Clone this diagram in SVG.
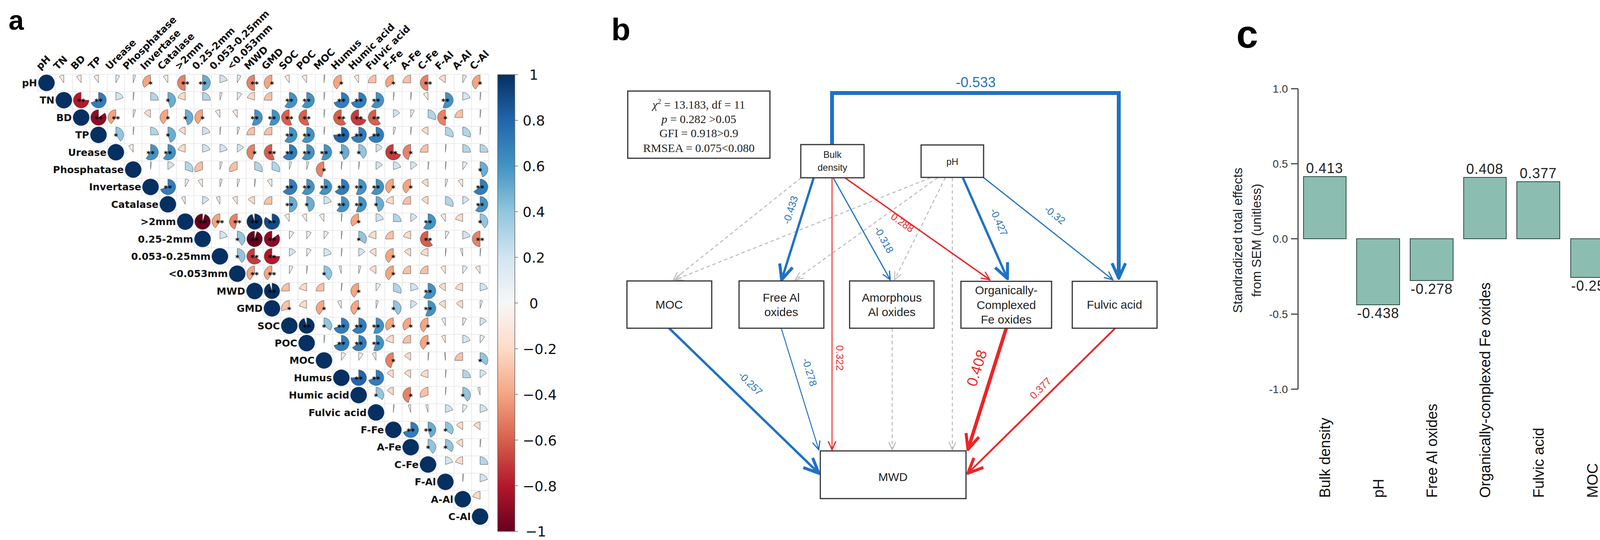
<svg xmlns="http://www.w3.org/2000/svg" xmlns:xlink="http://www.w3.org/1999/xlink" width="4294" height="1382" viewBox="0 0 4294 1382">
<style>
.lab{font-family:"DejaVu Sans",sans-serif;font-weight:bold;font-size:25px;fill:#111}
.st{font-family:"DejaVu Sans",sans-serif;font-weight:bold;font-size:20px;fill:#000;text-anchor:middle}
.q1{fill:#e4eef3}.q2{fill:#d1e5f0}.q3{fill:#b2d5e7}.q4{fill:#92c5de}.q5{fill:#6bacd0}.q6{fill:#4393c3}.q7{fill:#327dbb}.q8{fill:#2166ac}.q9{fill:#134b87}.q10{fill:#053061}
.r1{fill:#faeae0}.r2{fill:#fddbc7}.r3{fill:#f9c0a5}.r4{fill:#f4a582}.r5{fill:#e58368}.r6{fill:#d6604d}.r7{fill:#c43c3c}.r8{fill:#b2182b}.r9{fill:#8d0c25}.r10{fill:#67001f}
.dg{fill:#053061}
.cb{font-family:"DejaVu Sans",sans-serif;font-size:36px;fill:#111}
.pl{font-family:"Liberation Sans",Arial,sans-serif;font-weight:bold;fill:#000}
.box{fill:#fff;stroke:#333;stroke-width:3}
.nt{font-family:"Liberation Sans",Arial,sans-serif;font-size:30px;fill:#222;text-anchor:middle}
.nts{font-family:"Liberation Sans",Arial,sans-serif;font-size:24px;fill:#222;text-anchor:middle}
.sr{font-family:"Liberation Serif","Times New Roman",serif;font-size:30px;fill:#222;text-anchor:middle}
.el{font-family:"Liberation Sans",Arial,sans-serif;font-size:26px;text-anchor:middle}
.bl{fill:#2a73c0}.rd{fill:#ee2a2a}
.eb{fill:none;stroke:#1f72c3}.er{fill:none;stroke:#ee2424}.eg{fill:none;stroke:#b8b8b8;stroke-width:2.5;stroke-dasharray:9 7}
.bar{fill:#8bbdb0;stroke:#2f4a45;stroke-width:2}
.vl{font-family:"Liberation Sans",Arial,sans-serif;font-size:36px;fill:#222;text-anchor:middle;letter-spacing:1px}
.tk{font-family:"Liberation Sans",Arial,sans-serif;font-size:28px;fill:#333;text-anchor:end}
.cat{font-family:"Liberation Sans",Arial,sans-serif;font-size:38px;fill:#111}
.yt{font-family:"Liberation Sans",Arial,sans-serif;font-size:33px;fill:#222;text-anchor:middle}
</style>
<defs>
<g id="pie" stroke="#555" stroke-width="1"></g>
<path id="p02" stroke="#555" stroke-width="1" d="M0,0V-20A20,20 0 0 1 2.5,-19.84Z"/>
<path id="p05" stroke="#555" stroke-width="1" d="M0,0V-20A20,20 0 0 1 6.18,-19.02Z"/>
<path id="p08" stroke="#555" stroke-width="1" d="M0,0V-20A20,20 0 0 1 9.63,-17.53Z"/>
<path id="p10" stroke="#555" stroke-width="1" d="M0,0V-20A20,20 0 0 1 11.76,-16.18Z"/>
<path id="p15" stroke="#555" stroke-width="1" d="M0,0V-20A20,20 0 0 1 16.18,-11.76Z"/>
<path id="p20" stroke="#555" stroke-width="1" d="M0,0V-20A20,20 0 0 1 19.02,-6.18Z"/>
<path id="p25" stroke="#555" stroke-width="1" d="M0,0V-20A20,20 0 0 1 20,0Z"/>
<path id="p30" stroke="#555" stroke-width="1" d="M0,0V-20A20,20 0 0 1 19.02,6.18Z"/>
<path id="p35" stroke="#555" stroke-width="1" d="M0,0V-20A20,20 0 0 1 16.18,11.76Z"/>
<path id="p40" stroke="#555" stroke-width="1" d="M0,0V-20A20,20 0 0 1 11.76,16.18Z"/>
<path id="p45" stroke="#555" stroke-width="1" d="M0,0V-20A20,20 0 0 1 6.18,19.02Z"/>
<path id="p50" stroke="#555" stroke-width="1" d="M0,0V-20A20,20 0 0 1 0,20Z"/>
<path id="p55" stroke="#555" stroke-width="1" d="M0,0V-20A20,20 0 1 1 -6.18,19.02Z"/>
<path id="p60" stroke="#555" stroke-width="1" d="M0,0V-20A20,20 0 1 1 -11.76,16.18Z"/>
<path id="p65" stroke="#555" stroke-width="1" d="M0,0V-20A20,20 0 1 1 -16.18,11.76Z"/>
<path id="p70" stroke="#555" stroke-width="1" d="M0,0V-20A20,20 0 1 1 -19.02,6.18Z"/>
<path id="p75" stroke="#555" stroke-width="1" d="M0,0V-20A20,20 0 1 1 -20,0Z"/>
<path id="p85" stroke="#555" stroke-width="1" d="M0,0V-20A20,20 0 1 1 -16.18,-11.76Z"/>
<path id="p95" stroke="#555" stroke-width="1" d="M0,0V-20A20,20 0 1 1 -6.18,-19.02Z"/>
<path id="n02" stroke="#555" stroke-width="1" d="M0,0V-20A20,20 0 0 0 -2.5,-19.84Z"/>
<path id="n05" stroke="#555" stroke-width="1" d="M0,0V-20A20,20 0 0 0 -6.18,-19.02Z"/>
<path id="n08" stroke="#555" stroke-width="1" d="M0,0V-20A20,20 0 0 0 -9.63,-17.53Z"/>
<path id="n10" stroke="#555" stroke-width="1" d="M0,0V-20A20,20 0 0 0 -11.76,-16.18Z"/>
<path id="n15" stroke="#555" stroke-width="1" d="M0,0V-20A20,20 0 0 0 -16.18,-11.76Z"/>
<path id="n20" stroke="#555" stroke-width="1" d="M0,0V-20A20,20 0 0 0 -19.02,-6.18Z"/>
<path id="n25" stroke="#555" stroke-width="1" d="M0,0V-20A20,20 0 0 0 -20,0Z"/>
<path id="n30" stroke="#555" stroke-width="1" d="M0,0V-20A20,20 0 0 0 -19.02,6.18Z"/>
<path id="n35" stroke="#555" stroke-width="1" d="M0,0V-20A20,20 0 0 0 -16.18,11.76Z"/>
<path id="n40" stroke="#555" stroke-width="1" d="M0,0V-20A20,20 0 0 0 -11.76,16.18Z"/>
<path id="n45" stroke="#555" stroke-width="1" d="M0,0V-20A20,20 0 0 0 -6.18,19.02Z"/>
<path id="n50" stroke="#555" stroke-width="1" d="M0,0V-20A20,20 0 0 0 0,20Z"/>
<path id="n55" stroke="#555" stroke-width="1" d="M0,0V-20A20,20 0 1 0 6.18,19.02Z"/>
<path id="n60" stroke="#555" stroke-width="1" d="M0,0V-20A20,20 0 1 0 11.76,16.18Z"/>
<path id="n65" stroke="#555" stroke-width="1" d="M0,0V-20A20,20 0 1 0 16.18,11.76Z"/>
<path id="n70" stroke="#555" stroke-width="1" d="M0,0V-20A20,20 0 1 0 19.02,6.18Z"/>
<path id="n75" stroke="#555" stroke-width="1" d="M0,0V-20A20,20 0 1 0 20,0Z"/>
<path id="n85" stroke="#555" stroke-width="1" d="M0,0V-20A20,20 0 1 0 16.18,-11.76Z"/>
<path id="n95" stroke="#555" stroke-width="1" d="M0,0V-20A20,20 0 1 0 6.18,-19.02Z"/>
<linearGradient id="rdbu" x1="0" y1="0" x2="0" y2="1">
<stop offset="0" stop-color="#053061"/><stop offset="0.1" stop-color="#2166ac"/><stop offset="0.2" stop-color="#4393c3"/><stop offset="0.3" stop-color="#92c5de"/><stop offset="0.4" stop-color="#d1e5f0"/><stop offset="0.5" stop-color="#f7f7f7"/><stop offset="0.6" stop-color="#fddbc7"/><stop offset="0.7" stop-color="#f4a582"/><stop offset="0.8" stop-color="#d6604d"/><stop offset="0.9" stop-color="#b2182b"/><stop offset="1" stop-color="#67001f"/>
</linearGradient>
<marker id="ab" viewBox="0 0 12 12" refX="11" refY="6" markerWidth="26" markerHeight="26" markerUnits="userSpaceOnUse" orient="auto"><path d="M1,1.5L11,6L1,10.5" fill="none" stroke="#1f72c3" stroke-width="1.4"/></marker>
<marker id="abL" viewBox="0 0 12 12" refX="11" refY="6" markerWidth="46" markerHeight="46" markerUnits="userSpaceOnUse" orient="auto"><path d="M1,1.5L11,6L1,10.5" fill="none" stroke="#1f72c3" stroke-width="2"/></marker>
<marker id="ar" viewBox="0 0 12 12" refX="11" refY="6" markerWidth="26" markerHeight="26" markerUnits="userSpaceOnUse" orient="auto"><path d="M1,1.5L11,6L1,10.5" fill="none" stroke="#ee2424" stroke-width="1.4"/></marker>
<marker id="arL" viewBox="0 0 12 12" refX="11" refY="6" markerWidth="46" markerHeight="46" markerUnits="userSpaceOnUse" orient="auto"><path d="M1,1.5L11,6L1,10.5" fill="none" stroke="#ee2424" stroke-width="2"/></marker>
<marker id="ag" viewBox="0 0 12 12" refX="11" refY="6" markerWidth="24" markerHeight="24" markerUnits="userSpaceOnUse" orient="auto"><path d="M1,1.5L11,6L1,10.5" fill="none" stroke="#b8b8b8" stroke-width="1.2"/></marker>
</defs>
<rect width="4294" height="1382" fill="#fff"/>

<!-- Panel a -->
<text class="pl" x="22" y="76" font-size="70">a</text>
<path id="grid" fill="none" stroke="#e4e4e4" stroke-width="1.5" d="M97,190H1251.4M97,234.4H1251.4M141.4,278.8H1251.4M185.8,323.2H1251.4M230.2,367.6H1251.4M274.6,412H1251.4M319,456.4H1251.4M363.4,500.8H1251.4M407.8,545.2H1251.4M452.2,589.6H1251.4M496.6,634H1251.4M541,678.4H1251.4M585.4,722.8H1251.4M629.8,767.2H1251.4M674.2,811.6H1251.4M718.6,856H1251.4M763,900.4H1251.4M807.4,944.8H1251.4M851.8,989.2H1251.4M896.2,1033.6H1251.4M940.6,1078H1251.4M985,1122.4H1251.4M1029.4,1166.8H1251.4M1073.8,1211.2H1251.4M1118.2,1255.6H1251.4M1162.6,1300H1251.4M1207,1344.4H1251.4
M97,190V234.4M141.4,190V278.8M185.8,190V323.2M230.2,190V367.6M274.6,190V412M319,190V456.4M363.4,190V500.8M407.8,190V545.2M452.2,190V589.6M496.6,190V634M541,190V678.4M585.4,190V722.8M629.8,190V767.2M674.2,190V811.6M718.6,190V856M763,190V900.4M807.4,190V944.8M851.8,190V989.2M896.2,190V1033.6M940.6,190V1078M985,190V1122.4M1029.4,190V1166.8M1073.8,190V1211.2M1118.2,190V1255.6M1162.6,190V1300M1207,190V1344.4M1251.4,190V1344.4"/>

<g id="collabels" class="lab">
<text transform="translate(103,180) rotate(-45)">pH</text>
<text transform="translate(147.4,180) rotate(-45)">TN</text>
<text transform="translate(191.8,180) rotate(-45)">BD</text>
<text transform="translate(236.2,180) rotate(-45)">TP</text>
<text transform="translate(280.6,180) rotate(-45)">Urease</text>
<text transform="translate(325,180) rotate(-45)">Phosphatase</text>
<text transform="translate(369.4,180) rotate(-45)">Invertase</text>
<text transform="translate(413.8,180) rotate(-45)">Catalase</text>
<text transform="translate(458.2,180) rotate(-45)">&gt;2mm</text>
<text transform="translate(502.6,180) rotate(-45)">0.25-2mm</text>
<text transform="translate(547,180) rotate(-45)">0.053-0.25mm</text>
<text transform="translate(591.4,180) rotate(-45)">&lt;0.053mm</text>
<text transform="translate(635.8,180) rotate(-45)">MWD</text>
<text transform="translate(680.2,180) rotate(-45)">GMD</text>
<text transform="translate(724.6,180) rotate(-45)">SOC</text>
<text transform="translate(769,180) rotate(-45)">POC</text>
<text transform="translate(813.4,180) rotate(-45)">MOC</text>
<text transform="translate(857.8,180) rotate(-45)">Humus</text>
<text transform="translate(902.2,180) rotate(-45)">Humic acid</text>
<text transform="translate(946.6,180) rotate(-45)">Fulvic acid</text>
<text transform="translate(991,180) rotate(-45)">F-Fe</text>
<text transform="translate(1035.4,180) rotate(-45)">A-Fe</text>
<text transform="translate(1079.8,180) rotate(-45)">C-Fe</text>
<text transform="translate(1124.2,180) rotate(-45)">F-Al</text>
<text transform="translate(1168.6,180) rotate(-45)">A-Al</text>
<text transform="translate(1213,180) rotate(-45)">C-Al</text>
</g>

<g id="rowlabels" class="lab" text-anchor="end">
<text x="95" y="221">pH</text>
<text x="139.4" y="265.4">TN</text>
<text x="183.8" y="309.8">BD</text>
<text x="228.2" y="354.2">TP</text>
<text x="272.6" y="398.6">Urease</text>
<text x="317" y="443">Phosphatase</text>
<text x="361.4" y="487.4">Invertase</text>
<text x="405.8" y="531.8">Catalase</text>
<text x="450.2" y="576.2">&gt;2mm</text>
<text x="494.6" y="620.6">0.25-2mm</text>
<text x="539" y="665">0.053-0.25mm</text>
<text x="583.4" y="709.4">&lt;0.053mm</text>
<text x="627.8" y="753.8">MWD</text>
<text x="672.2" y="798.2">GMD</text>
<text x="716.6" y="842.6">SOC</text>
<text x="761" y="887">POC</text>
<text x="805.4" y="931.4">MOC</text>
<text x="849.8" y="975.8">Humus</text>
<text x="894.2" y="1020.2">Humic acid</text>
<text x="938.6" y="1064.6">Fulvic acid</text>
<text x="983" y="1109">F-Fe</text>
<text x="1027.4" y="1153.4">A-Fe</text>
<text x="1071.8" y="1197.8">C-Fe</text>
<text x="1116.2" y="1242.2">F-Al</text>
<text x="1160.6" y="1286.6">A-Al</text>
<text x="1205" y="1331">C-Al</text>
</g>

<g id="diag" class="dg">
<circle cx="119" cy="212" r="21"/><circle cx="163.4" cy="256.4" r="21"/><circle cx="207.8" cy="300.8" r="21"/><circle cx="252.2" cy="345.2" r="21"/><circle cx="296.6" cy="389.6" r="21"/><circle cx="341" cy="434" r="21"/><circle cx="385.4" cy="478.4" r="21"/><circle cx="429.8" cy="522.8" r="21"/><circle cx="474.2" cy="567.2" r="21"/><circle cx="518.6" cy="611.6" r="21"/><circle cx="563" cy="656" r="21"/><circle cx="607.4" cy="700.4" r="21"/><circle cx="651.8" cy="744.8" r="21"/><circle cx="696.2" cy="789.2" r="21"/><circle cx="740.6" cy="833.6" r="21"/><circle cx="785" cy="878" r="21"/><circle cx="829.4" cy="922.4" r="21"/><circle cx="873.8" cy="966.8" r="21"/><circle cx="918.2" cy="1011.2" r="21"/><circle cx="962.6" cy="1055.6" r="21"/><circle cx="1007" cy="1100" r="21"/><circle cx="1051.4" cy="1144.4" r="21"/><circle cx="1095.8" cy="1188.8" r="21"/><circle cx="1140.2" cy="1233.2" r="21"/><circle cx="1184.6" cy="1277.6" r="21"/><circle cx="1229" cy="1322" r="21"/>
</g>

<g id="pies">
<g transform="translate(0,212)">
<use href="#n10" x="163.4" class="r1"/><use href="#n10" x="207.8" class="r1"/><use href="#n10" x="252.2" class="r1"/><use href="#p08" x="296.6" class="q1"/><use href="#p05" x="341" class="q1"/><use href="#n35" x="385.4" class="r4"/><use href="#n10" x="429.8" class="r1"/><use href="#n50" x="474.2" class="r5"/><use href="#p50" x="518.6" class="q5"/><use href="#p20" x="563" class="q2"/><use href="#p08" x="607.4" class="q1"/><use href="#n50" x="651.8" class="r5"/><use href="#n40" x="696.2" class="r4"/><use href="#n10" x="740.6" class="r1"/><use href="#n10" x="785" class="r1"/><use href="#p02" x="829.4" class="q1"/><use href="#n40" x="873.8" class="r4"/><use href="#n10" x="918.2" class="r1"/><use href="#n25" x="962.6" class="r3"/><use href="#n35" x="1007" class="r4"/><use href="#n25" x="1051.4" class="r3"/><use href="#n50" x="1095.8" class="r5"/><use href="#n15" x="1140.2" class="r2"/><use href="#p08" x="1184.6" class="q1"/><use href="#n40" x="1229" class="r4"/>
<text class="st" x="385.4" y="10">*</text><text class="st" x="474.2" y="10">**</text><text class="st" x="518.6" y="10">**</text><text class="st" x="651.8" y="10">**</text><text class="st" x="696.2" y="10">*</text><text class="st" x="873.8" y="10">*</text><text class="st" x="1007" y="10">*</text><text class="st" x="1095.8" y="10">**</text><text class="st" x="1229" y="10">*</text>
</g>
<g transform="translate(0,256.4)">
<use href="#n75" x="207.8" class="r8"/><use href="#p70" x="252.2" class="q7"/><use href="#p20" x="296.6" class="q2"/><use href="#p02" x="341" class="q1"/><use href="#p25" x="385.4" class="q3"/><use href="#p45" x="429.8" class="q5"/><use href="#n20" x="474.2" class="r2"/><use href="#p25" x="518.6" class="q3"/><use href="#p05" x="563" class="q1"/><use href="#p10" x="607.4" class="q1"/><use href="#n20" x="651.8" class="r2"/><use href="#n25" x="696.2" class="r3"/><use href="#p60" x="740.6" class="q6"/><use href="#p60" x="785" class="q6"/><use href="#p02" x="829.4" class="q1"/><use href="#p70" x="873.8" class="q7"/><use href="#p70" x="918.2" class="q7"/><use href="#p60" x="962.6" class="q6"/><use href="#p02" x="1007" class="q1"/><use href="#p02" x="1051.4" class="q1"/><use href="#n10" x="1095.8" class="r1"/><use href="#p55" x="1140.2" class="q6"/><use href="#p20" x="1184.6" class="q2"/><use href="#p02" x="1229" class="q1"/>
<text class="st" x="207.8" y="10">**</text><text class="st" x="252.2" y="10">**</text><text class="st" x="429.8" y="10">*</text><text class="st" x="740.6" y="10">**</text><text class="st" x="785" y="10">**</text><text class="st" x="873.8" y="10">**</text><text class="st" x="918.2" y="10">**</text><text class="st" x="962.6" y="10">**</text><text class="st" x="1140.2" y="10">**</text>
</g>
<g transform="translate(0,300.8)">
<use href="#n85" x="252.2" class="r9"/><use href="#n40" x="296.6" class="r4"/><use href="#p05" x="341" class="q1"/><use href="#n15" x="385.4" class="r2"/><use href="#n40" x="429.8" class="r4"/><use href="#p45" x="474.2" class="q5"/><use href="#n40" x="518.6" class="r4"/><use href="#n10" x="563" class="r1"/><use href="#n10" x="607.4" class="r1"/><use href="#p55" x="651.8" class="q6"/><use href="#p55" x="696.2" class="q6"/><use href="#n55" x="740.6" class="r6"/><use href="#n55" x="785" class="r6"/><use href="#p02" x="829.4" class="q1"/><use href="#n60" x="873.8" class="r6"/><use href="#n70" x="918.2" class="r7"/><use href="#n60" x="962.6" class="r6"/><use href="#p15" x="1007" class="q2"/><use href="#p08" x="1051.4" class="q1"/><use href="#p30" x="1095.8" class="q3"/><use href="#n50" x="1140.2" class="r5"/><use href="#n25" x="1184.6" class="r3"/><use href="#p02" x="1229" class="q1"/>
<text class="st" x="252.2" y="10">**</text><text class="st" x="296.6" y="10">**</text><text class="st" x="429.8" y="10">*</text><text class="st" x="474.2" y="10">*</text><text class="st" x="518.6" y="10">*</text><text class="st" x="651.8" y="10">**</text><text class="st" x="696.2" y="10">**</text><text class="st" x="740.6" y="10">**</text><text class="st" x="785" y="10">**</text><text class="st" x="873.8" y="10">**</text><text class="st" x="918.2" y="10">**</text><text class="st" x="962.6" y="10">**</text><text class="st" x="1140.2" y="10">*</text>
</g>
<g transform="translate(0,345.2)">
<use href="#p40" x="296.6" class="q4"/><use href="#p02" x="341" class="q1"/><use href="#p25" x="385.4" class="q3"/><use href="#p45" x="429.8" class="q5"/><use href="#n15" x="474.2" class="r2"/><use href="#p20" x="518.6" class="q2"/><use href="#p02" x="563" class="q1"/><use href="#p05" x="607.4" class="q1"/><use href="#n25" x="651.8" class="r3"/><use href="#n25" x="696.2" class="r3"/><use href="#p60" x="740.6" class="q6"/><use href="#p60" x="785" class="q6"/><use href="#p02" x="829.4" class="q1"/><use href="#p75" x="873.8" class="q8"/><use href="#p70" x="918.2" class="q7"/><use href="#p70" x="962.6" class="q7"/><use href="#p05" x="1007" class="q1"/><use href="#p02" x="1051.4" class="q1"/><use href="#n15" x="1095.8" class="r2"/><use href="#p30" x="1140.2" class="q3"/><use href="#p30" x="1184.6" class="q3"/><use href="#p02" x="1229" class="q1"/>
<text class="st" x="296.6" y="10">*</text><text class="st" x="429.8" y="10">*</text><text class="st" x="740.6" y="10">**</text><text class="st" x="785" y="10">**</text><text class="st" x="873.8" y="10">**</text><text class="st" x="918.2" y="10">**</text><text class="st" x="962.6" y="10">**</text>
</g>
<g transform="translate(0,389.6)">
<use href="#n10" x="341" class="r1"/><use href="#p60" x="385.4" class="q6"/><use href="#p60" x="429.8" class="q6"/><use href="#n20" x="474.2" class="r2"/><use href="#p20" x="518.6" class="q2"/><use href="#p20" x="563" class="q2"/><use href="#p15" x="607.4" class="q2"/><use href="#n45" x="651.8" class="r5"/><use href="#n55" x="696.2" class="r6"/><use href="#p65" x="740.6" class="q7"/><use href="#p60" x="785" class="q6"/><use href="#p55" x="829.4" class="q6"/><use href="#p45" x="873.8" class="q5"/><use href="#p40" x="918.2" class="q4"/><use href="#p15" x="962.6" class="q2"/><use href="#n70" x="1007" class="r7"/><use href="#n45" x="1051.4" class="r5"/><use href="#n25" x="1095.8" class="r3"/><use href="#p02" x="1140.2" class="q1"/><use href="#p25" x="1184.6" class="q3"/><use href="#p25" x="1229" class="q3"/>
<text class="st" x="385.4" y="10">**</text><text class="st" x="429.8" y="10">**</text><text class="st" x="651.8" y="10">*</text><text class="st" x="696.2" y="10">**</text><text class="st" x="740.6" y="10">**</text><text class="st" x="785" y="10">**</text><text class="st" x="829.4" y="10">**</text><text class="st" x="873.8" y="10">*</text><text class="st" x="918.2" y="10">*</text><text class="st" x="1007" y="10">**</text><text class="st" x="1051.4" y="10">*</text>
</g>
<g transform="translate(0,434)">
<use href="#p02" x="385.4" class="q1"/><use href="#p15" x="429.8" class="q2"/><use href="#p30" x="474.2" class="q3"/><use href="#n30" x="518.6" class="r3"/><use href="#p05" x="563" class="q1"/><use href="#n30" x="607.4" class="r3"/><use href="#p30" x="651.8" class="q3"/><use href="#p30" x="696.2" class="q3"/><use href="#p05" x="740.6" class="q1"/><use href="#p05" x="785" class="q1"/><use href="#n45" x="829.4" class="r5"/><use href="#p02" x="873.8" class="q1"/><use href="#p02" x="918.2" class="q1"/><use href="#p15" x="962.6" class="q2"/><use href="#p20" x="1007" class="q2"/><use href="#p15" x="1051.4" class="q2"/><use href="#p02" x="1095.8" class="q1"/><use href="#p02" x="1140.2" class="q1"/><use href="#p10" x="1184.6" class="q1"/><use href="#p45" x="1229" class="q5"/>
<text class="st" x="829.4" y="10">*</text><text class="st" x="1229" y="10">*</text>
</g>
<g transform="translate(0,478.4)">
<use href="#p70" x="429.8" class="q7"/><use href="#p08" x="474.2" class="q1"/><use href="#n10" x="518.6" class="r1"/><use href="#p05" x="563" class="q1"/><use href="#p05" x="607.4" class="q1"/><use href="#p02" x="651.8" class="q1"/><use href="#n10" x="696.2" class="r1"/><use href="#p65" x="740.6" class="q7"/><use href="#p60" x="785" class="q6"/><use href="#p60" x="829.4" class="q6"/><use href="#p65" x="873.8" class="q7"/><use href="#p55" x="918.2" class="q6"/><use href="#p60" x="962.6" class="q6"/><use href="#n40" x="1007" class="r4"/><use href="#n40" x="1051.4" class="r4"/><use href="#n15" x="1095.8" class="r2"/><use href="#p05" x="1140.2" class="q1"/><use href="#n10" x="1184.6" class="r1"/><use href="#p65" x="1229" class="q7"/>
<text class="st" x="429.8" y="10">**</text><text class="st" x="740.6" y="10">**</text><text class="st" x="785" y="10">**</text><text class="st" x="829.4" y="10">**</text><text class="st" x="873.8" y="10">**</text><text class="st" x="918.2" y="10">**</text><text class="st" x="962.6" y="10">**</text><text class="st" x="1007" y="10">*</text><text class="st" x="1051.4" y="10">*</text><text class="st" x="1229" y="10">**</text>
</g>
<g transform="translate(0,522.8)">
<use href="#n08" x="474.2" class="r1"/><use href="#p15" x="518.6" class="q2"/><use href="#n08" x="563" class="r1"/><use href="#n10" x="607.4" class="r1"/><use href="#n15" x="651.8" class="r2"/><use href="#n25" x="696.2" class="r3"/><use href="#p50" x="740.6" class="q5"/><use href="#p45" x="785" class="q5"/><use href="#p20" x="829.4" class="q2"/><use href="#p60" x="873.8" class="q6"/><use href="#p55" x="918.2" class="q6"/><use href="#p45" x="962.6" class="q5"/><use href="#n20" x="1007" class="r2"/><use href="#n25" x="1051.4" class="r3"/><use href="#n15" x="1095.8" class="r2"/><use href="#p30" x="1140.2" class="q3"/><use href="#p15" x="1184.6" class="q2"/><use href="#p60" x="1229" class="q6"/>
<text class="st" x="740.6" y="10">**</text><text class="st" x="785" y="10">*</text><text class="st" x="873.8" y="10">**</text><text class="st" x="918.2" y="10">**</text><text class="st" x="962.6" y="10">*</text><text class="st" x="1229" y="10">**</text>
</g>
<g transform="translate(0,567.2)">
<use href="#n95" x="518.6" class="r10"/><use href="#n40" x="563" class="r4"/><use href="#n45" x="607.4" class="r5"/><use href="#p95" x="651.8" class="q10"/><use href="#p85" x="696.2" class="q9"/><use href="#n10" x="740.6" class="r1"/><use href="#n10" x="785" class="r1"/><use href="#n10" x="829.4" class="r1"/><use href="#p02" x="873.8" class="q1"/><use href="#n35" x="918.2" class="r4"/><use href="#p20" x="962.6" class="q2"/><use href="#p25" x="1007" class="q3"/><use href="#p15" x="1051.4" class="q2"/><use href="#p60" x="1095.8" class="q6"/><use href="#n10" x="1140.2" class="r1"/><use href="#n20" x="1184.6" class="r2"/><use href="#p40" x="1229" class="q4"/>
<text class="st" x="518.6" y="10">**</text><text class="st" x="563" y="10">**</text><text class="st" x="607.4" y="10">**</text><text class="st" x="651.8" y="10">**</text><text class="st" x="696.2" y="10">**</text><text class="st" x="918.2" y="10">*</text><text class="st" x="1095.8" y="10">**</text><text class="st" x="1229" y="10">*</text>
</g>
<g transform="translate(0,611.6)">
<use href="#p20" x="563" class="q2"/><use href="#p40" x="607.4" class="q4"/><use href="#n95" x="651.8" class="r10"/><use href="#n85" x="696.2" class="r9"/><use href="#p10" x="740.6" class="q1"/><use href="#p10" x="785" class="q1"/><use href="#p10" x="829.4" class="q1"/><use href="#p02" x="873.8" class="q1"/><use href="#p35" x="918.2" class="q4"/><use href="#n20" x="962.6" class="r2"/><use href="#n25" x="1007" class="r3"/><use href="#n20" x="1051.4" class="r2"/><use href="#n60" x="1095.8" class="r6"/><use href="#p08" x="1140.2" class="q1"/><use href="#p20" x="1184.6" class="q2"/><use href="#n50" x="1229" class="r5"/>
<text class="st" x="607.4" y="10">*</text><text class="st" x="651.8" y="10">**</text><text class="st" x="696.2" y="10">**</text><text class="st" x="918.2" y="10">*</text><text class="st" x="1095.8" y="10">**</text><text class="st" x="1229" y="10">**</text>
</g>
<g transform="translate(0,656)">
<use href="#p40" x="607.4" class="q4"/><use href="#n65" x="651.8" class="r7"/><use href="#n75" x="696.2" class="r8"/><use href="#p15" x="740.6" class="q2"/><use href="#p10" x="785" class="q1"/><use href="#p20" x="829.4" class="q2"/><use href="#p02" x="873.8" class="q1"/><use href="#p15" x="918.2" class="q2"/><use href="#n15" x="962.6" class="r2"/><use href="#n40" x="1007" class="r4"/><use href="#n15" x="1051.4" class="r2"/><use href="#n20" x="1095.8" class="r2"/><use href="#p02" x="1140.2" class="q1"/><use href="#n05" x="1184.6" class="r1"/><use href="#p02" x="1229" class="q1"/>
<text class="st" x="607.4" y="10">*</text><text class="st" x="651.8" y="10">**</text><text class="st" x="696.2" y="10">**</text><text class="st" x="1007" y="10">*</text>
</g>
<g transform="translate(0,700.4)">
<use href="#n40" x="651.8" class="r4"/><use href="#n40" x="696.2" class="r4"/><use href="#p08" x="740.6" class="q1"/><use href="#p02" x="785" class="q1"/><use href="#p40" x="829.4" class="q4"/><use href="#n05" x="873.8" class="r1"/><use href="#p05" x="918.2" class="q1"/><use href="#n15" x="962.6" class="r2"/><use href="#n40" x="1007" class="r4"/><use href="#n25" x="1051.4" class="r3"/><use href="#n25" x="1095.8" class="r3"/><use href="#n10" x="1140.2" class="r1"/><use href="#p10" x="1184.6" class="q1"/><use href="#n10" x="1229" class="r1"/>
<text class="st" x="651.8" y="10">**</text><text class="st" x="696.2" y="10">**</text><text class="st" x="829.4" y="10">*</text><text class="st" x="1007" y="10">*</text>
</g>
<g transform="translate(0,744.8)">
<use href="#p95" x="696.2" class="q10"/><use href="#n25" x="740.6" class="r3"/><use href="#n20" x="785" class="r2"/><use href="#n25" x="829.4" class="r3"/><use href="#p02" x="873.8" class="q1"/><use href="#n40" x="918.2" class="r4"/><use href="#p10" x="962.6" class="q1"/><use href="#p30" x="1007" class="q3"/><use href="#p20" x="1051.4" class="q2"/><use href="#p60" x="1095.8" class="q6"/><use href="#n15" x="1140.2" class="r2"/><use href="#n20" x="1184.6" class="r2"/><use href="#p20" x="1229" class="q2"/>
<text class="st" x="696.2" y="10">**</text><text class="st" x="918.2" y="10">*</text><text class="st" x="1095.8" y="10">**</text>
</g>
<g transform="translate(0,789.2)">
<use href="#n30" x="740.6" class="r3"/><use href="#n20" x="785" class="r2"/><use href="#n40" x="829.4" class="r4"/><use href="#n08" x="873.8" class="r1"/><use href="#n40" x="918.2" class="r4"/><use href="#p05" x="962.6" class="q1"/><use href="#p40" x="1007" class="q4"/><use href="#p15" x="1051.4" class="q2"/><use href="#p55" x="1095.8" class="q6"/><use href="#n15" x="1140.2" class="r2"/><use href="#n15" x="1184.6" class="r2"/><use href="#p05" x="1229" class="q1"/>
<text class="st" x="740.6" y="10">*</text><text class="st" x="829.4" y="10">*</text><text class="st" x="918.2" y="10">*</text><text class="st" x="1007" y="10">*</text><text class="st" x="1095.8" y="10">**</text>
</g>
<g transform="translate(0,833.6)">
<use href="#p95" x="785" class="q10"/><use href="#p35" x="829.4" class="q4"/><use href="#p70" x="873.8" class="q7"/><use href="#p65" x="918.2" class="q7"/><use href="#p55" x="962.6" class="q6"/><use href="#n35" x="1007" class="r4"/><use href="#n35" x="1051.4" class="r4"/><use href="#n40" x="1095.8" class="r4"/><use href="#n08" x="1140.2" class="r1"/><use href="#p08" x="1184.6" class="q1"/><use href="#p15" x="1229" class="q2"/>
<text class="st" x="785" y="10">**</text><text class="st" x="829.4" y="10">*</text><text class="st" x="873.8" y="10">**</text><text class="st" x="918.2" y="10">**</text><text class="st" x="962.6" y="10">**</text><text class="st" x="1007" y="10">*</text><text class="st" x="1051.4" y="10">*</text><text class="st" x="1095.8" y="10">*</text>
</g>
<g transform="translate(0,878)">
<use href="#p02" x="829.4" class="q1"/><use href="#p70" x="873.8" class="q7"/><use href="#p65" x="918.2" class="q7"/><use href="#p55" x="962.6" class="q6"/><use href="#n20" x="1007" class="r2"/><use href="#n25" x="1051.4" class="r3"/><use href="#n40" x="1095.8" class="r4"/><use href="#n08" x="1140.2" class="r1"/><use href="#p20" x="1184.6" class="q2"/><use href="#p10" x="1229" class="q1"/>
<text class="st" x="873.8" y="10">**</text><text class="st" x="918.2" y="10">**</text><text class="st" x="962.6" y="10">**</text><text class="st" x="1095.8" y="10">*</text>
</g>
<g transform="translate(0,922.4)">
<use href="#p10" x="873.8" class="q1"/><use href="#p10" x="918.2" class="q1"/><use href="#n08" x="962.6" class="r1"/><use href="#n45" x="1007" class="r5"/><use href="#n15" x="1051.4" class="r2"/><use href="#p02" x="1095.8" class="q1"/><use href="#n02" x="1140.2" class="r1"/><use href="#n25" x="1184.6" class="r3"/><use href="#p35" x="1229" class="q4"/>
<text class="st" x="1007" y="10">*</text><text class="st" x="1229" y="10">*</text>
</g>
<g transform="translate(0,966.8)">
<use href="#p75" x="918.2" class="q8"/><use href="#p70" x="962.6" class="q7"/><use href="#n15" x="1007" class="r2"/><use href="#n15" x="1051.4" class="r2"/><use href="#n20" x="1095.8" class="r2"/><use href="#p02" x="1140.2" class="q1"/><use href="#p25" x="1184.6" class="q3"/><use href="#p15" x="1229" class="q2"/>
<text class="st" x="918.2" y="10">**</text><text class="st" x="962.6" y="10">**</text>
</g>
<g transform="translate(0,1011.2)">
<use href="#p35" x="962.6" class="q4"/><use href="#n15" x="1007" class="r2"/><use href="#n45" x="1051.4" class="r5"/><use href="#n30" x="1095.8" class="r3"/><use href="#p02" x="1140.2" class="q1"/><use href="#p40" x="1184.6" class="q4"/><use href="#n05" x="1229" class="r1"/>
<text class="st" x="962.6" y="10">*</text><text class="st" x="1051.4" y="10">*</text><text class="st" x="1184.6" y="10">*</text>
</g>
<g transform="translate(0,1055.6)">
<use href="#p02" x="1007" class="q1"/><use href="#n05" x="1051.4" class="r1"/><use href="#n05" x="1095.8" class="r1"/><use href="#p20" x="1140.2" class="q2"/><use href="#p10" x="1184.6" class="q1"/><use href="#p20" x="1229" class="q2"/>
</g>
<g transform="translate(0,1100)">
<use href="#p70" x="1051.4" class="q7"/><use href="#p45" x="1095.8" class="q5"/><use href="#p35" x="1140.2" class="q4"/><use href="#n15" x="1184.6" class="r2"/><use href="#n15" x="1229" class="r2"/>
<text class="st" x="1051.4" y="10">**</text><text class="st" x="1095.8" y="10">**</text><text class="st" x="1140.2" y="10">*</text>
</g>
<g transform="translate(0,1144.4)">
<use href="#p40" x="1095.8" class="q4"/><use href="#p35" x="1140.2" class="q4"/><use href="#n15" x="1184.6" class="r2"/><use href="#p02" x="1229" class="q1"/>
<text class="st" x="1095.8" y="10">*</text><text class="st" x="1140.2" y="10">*</text>
</g>
<g transform="translate(0,1188.8)">
<use href="#p20" x="1140.2" class="q2"/><use href="#n20" x="1184.6" class="r2"/><use href="#p25" x="1229" class="q3"/>
</g>
<g transform="translate(0,1233.2)">
<use href="#p02" x="1184.6" class="q1"/><use href="#p20" x="1229" class="q2"/>
</g>
<g transform="translate(0,1277.6)">
<use href="#n20" x="1229" class="r2"/>
</g>
</g>

<g id="colorbar">
<rect x="1274" y="191" width="44" height="1169" fill="url(#rdbu)" stroke="#666" stroke-width="1.5"/>
<path d="M1318,191h8M1318,307.9h8M1318,424.8h8M1318,541.7h8M1318,658.6h8M1318,775.5h8M1318,892.4h8M1318,1009.3h8M1318,1126.2h8M1318,1243.1h8M1318,1360h8" stroke="#666" stroke-width="1.5"/>
<text class="cb" x="1355" y="204">1</text>
<text class="cb" x="1338" y="321">0.8</text>
<text class="cb" x="1338" y="438">0.6</text>
<text class="cb" x="1338" y="555">0.4</text>
<text class="cb" x="1338" y="672">0.2</text>
<text class="cb" x="1355" y="789">0</text>
<text class="cb" x="1338" y="906">−0.2</text>
<text class="cb" x="1338" y="1023">−0.4</text>
<text class="cb" x="1338" y="1140">−0.6</text>
<text class="cb" x="1338" y="1257">−0.8</text>
<text class="cb" x="1345" y="1373">−1</text>
</g>

<!-- Panel b -->
<text class="pl" x="1565" y="103" font-size="80">b</text>
<g id="fitbox">
<rect x="1607" y="233" width="364" height="172" fill="#fff" stroke="#333" stroke-width="3"/>
<text class="sr" x="1789" y="278"><tspan font-style="italic">χ</tspan><tspan font-size="18" dy="-12">2</tspan><tspan dy="12"> = 13.183, df = 11</tspan></text>
<text class="sr" x="1789" y="315"><tspan font-style="italic">p</tspan> = 0.282 &gt;0.05</text>
<text class="sr" x="1789" y="351">GFI = 0.918&gt;0.9</text>
<text class="sr" x="1789" y="389">RMSEA = 0.075&lt;0.080</text>
</g>

<g id="connectors">
<path class="eb" stroke-width="10" d="M2130,370V238H2864V712" marker-end="url(#abL)"/>
<path class="eg" d="M2051,455L1724,716" marker-end="url(#ag)"/>
<path class="eg" d="M2382,455L1728,716" marker-end="url(#ag)"/>
<path class="eg" d="M2400,455L2036,716" marker-end="url(#ag)"/>
<path class="eg" d="M2420,455L2290,716" marker-end="url(#ag)"/>
<path class="eg" d="M2438,455V1151" marker-end="url(#ag)"/>
<path class="eg" d="M2284,840V1151" marker-end="url(#ag)"/>
<path class="eb" stroke-width="6" d="M2083,455L2001,716" marker-end="url(#abL)"/>
<path class="er" stroke-width="2.5" d="M2130,455V1151" marker-end="url(#ar)"/>
<path class="eb" stroke-width="3" d="M2133,455L2279,716" marker-end="url(#ab)"/>
<path class="er" stroke-width="3.5" d="M2163,455L2534,716" marker-end="url(#ar)"/>
<path class="eb" stroke-width="6" d="M2465,455L2579,713" marker-end="url(#abL)"/>
<path class="eb" stroke-width="3" d="M2516,453L2849,716" marker-end="url(#ab)"/>
<path class="eb" stroke-width="6" d="M1713,840L2096,1211" marker-end="url(#abL)"/>
<path class="eb" stroke-width="2.5" d="M2000,840L2096,1151" marker-end="url(#ab)"/>
<path class="er" stroke-width="9" d="M2576,840L2478,1150" marker-end="url(#arL)"/>
<path class="er" stroke-width="4.5" d="M2855,840L2478,1211" marker-end="url(#arL)"/>
<g class="el">
<text class="bl" x="2498" y="223" font-size="36">-0.533</text>
<text class="bl" transform="translate(2032,540) rotate(-72.5)">-0.433</text>
<text class="rd" transform="translate(2141,916) rotate(90)">0.322</text>
<text class="bl" transform="translate(2255,618) rotate(61)">-0.318</text>
<text class="rd" transform="translate(2305,577) rotate(35.4)">0.288</text>
<text class="bl" transform="translate(2549,572) rotate(66.3)">-0.427</text>
<text class="bl" transform="translate(2695,557) rotate(38.2)">-0.32</text>
<text class="bl" transform="translate(1915,988) rotate(44.2)">-0.257</text>
<text class="bl" transform="translate(2064,955) rotate(72.9)">-0.278</text>
<text class="rd" transform="translate(2513,946) rotate(-72.6)" font-size="38">0.408</text>
<text class="rd" transform="translate(2670,1000) rotate(-44.7)">0.377</text>
</g>
</g>

<g id="n-bd"><rect class="box" x="2050" y="370" width="162" height="85"/><text class="nts" x="2131" y="404">Bulk</text><text class="nts" x="2131" y="437">density</text></g>
<g id="n-ph"><rect class="box" x="2358" y="371" width="160" height="83"/><text class="nts" x="2438" y="422">pH</text></g>
<g id="n-moc"><rect class="box" x="1605" y="719" width="217" height="121"/><text class="nt" x="1713" y="790">MOC</text></g>
<g id="n-fal"><rect class="box" x="1892" y="719" width="217" height="121"/><text class="nt" x="2000" y="772">Free Al</text><text class="nt" x="2000" y="809">oxides</text></g>
<g id="n-aal"><rect class="box" x="2175" y="719" width="216" height="121"/><text class="nt" x="2283" y="772">Amorphous</text><text class="nt" x="2283" y="809">Al oxides</text></g>
<g id="n-ofe"><rect class="box" x="2460" y="720" width="232" height="120"/><text class="nt" x="2576" y="753">Organically-</text><text class="nt" x="2576" y="791">Complexed</text><text class="nt" x="2576" y="828">Fe oxides</text></g>
<g id="n-fa"><rect class="box" x="2745" y="720" width="217" height="120"/><text class="nt" x="2853" y="790">Fulvic acid</text></g>
<g id="n-mwd"><rect class="box" x="2100" y="1154" width="373" height="122"/><text class="nt" x="2286" y="1231" font-size="46">MWD</text></g>

<!-- Panel c -->
<text class="pl" x="3165" y="122" font-size="100">c</text>
<g id="axis">
<path d="M3323,227V996M3305,227H3323M3305,419H3323M3305,611H3323M3305,804H3323M3305,996H3323" fill="none" stroke="#444" stroke-width="3"/>
<text class="tk" x="3297" y="237">1.0</text>
<text class="tk" x="3297" y="429">0.5</text>
<text class="tk" x="3297" y="621">0.0</text>
<text class="tk" x="3297" y="814">-0.5</text>
<text class="tk" x="3297" y="1006">-1.0</text>
<text class="yt" transform="translate(3180,615) rotate(-90)">Standradized total effects</text>
<text class="yt" transform="translate(3228,615) rotate(-90)">from SEM (unitless)</text>
</g>
<g id="bars">
<rect class="bar" x="3337" y="452" width="109" height="159"/>
<rect class="bar" x="3473" y="611" width="110" height="169"/>
<rect class="bar" x="3610" y="611" width="110" height="107"/>
<rect class="bar" x="3747" y="454" width="109" height="157"/>
<rect class="bar" x="3883" y="465" width="110" height="146"/>
<rect class="bar" x="4021" y="611" width="110" height="99"/>
<rect class="bar" x="4158" y="611" width="110" height="52"/>
<text class="vl" x="3391" y="443">0.413</text>
<text class="vl" x="3528" y="814">-0.438</text>
<text class="vl" x="3665" y="752">-0.278</text>
<text class="vl" x="3801" y="445">0.408</text>
<text class="vl" x="3938" y="456">0.377</text>
<text class="vl" x="4076" y="744">-0.257</text>
<text class="vl" x="4213" y="697">-0.134</text>
</g>
<g id="cats" class="cat">
<text transform="translate(3405,1274) rotate(-90)">Bulk density</text>
<text transform="translate(3542,1274) rotate(-90)">pH</text>
<text transform="translate(3679,1274) rotate(-90)">Free Al oxides</text>
<text transform="translate(3815,1274) rotate(-90)">Organically-conplexed Fe oxides</text>
<text transform="translate(3952,1274) rotate(-90)">Fulvic acid</text>
<text transform="translate(4090,1274) rotate(-90)">MOC</text>
<text transform="translate(4227,1274) rotate(-90)">Amorphous Al oxides</text>
</g>
</svg>
